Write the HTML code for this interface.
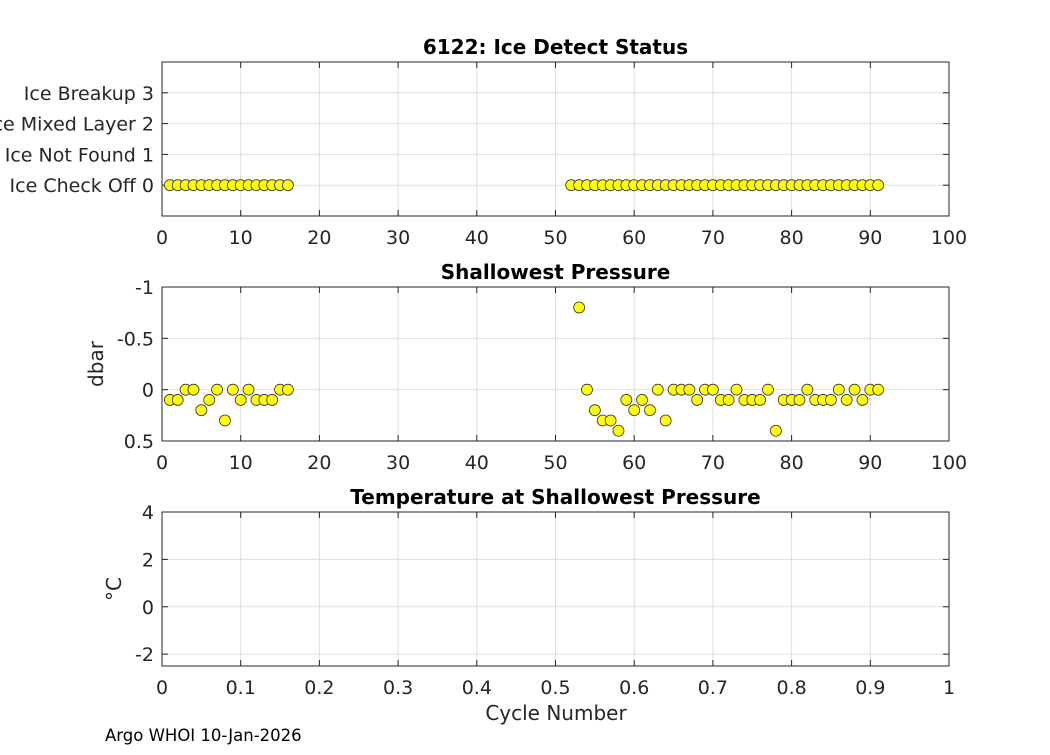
<!DOCTYPE html>
<html><head><meta charset="utf-8"><style>
body{margin:0;background:#fff;font-family:"Liberation Sans","DejaVu Sans",sans-serif;overflow:hidden}
svg text{font-family:"DejaVu Sans","Liberation Sans",sans-serif;fill:#262626}
</style></head><body>
<svg id="fig" width="1050" height="750" xmlns="http://www.w3.org/2000/svg"></svg>
<script>
const iceCycles=[1,2,3,4,5,6,7,8,9,10,11,12,13,14,15,16,52,53,54,55,56,57,58,59,60,61,62,63,64,65,66,67,68,69,70,71,72,73,74,75,76,77,78,79,80,81,82,83,84,85,86,87,88,89,90,91];
const iceStatus=[0,0,0,0,0,0,0,0,0,0,0,0,0,0,0,0,0,0,0,0,0,0,0,0,0,0,0,0,0,0,0,0,0,0,0,0,0,0,0,0,0,0,0,0,0,0,0,0,0,0,0,0,0,0,0,0];
const presCycles=[1,2,3,4,5,6,7,8,9,10,11,12,13,14,15,16,53,54,55,56,57,58,59,60,61,62,63,64,65,66,67,68,69,70,71,72,73,74,75,76,77,78,79,80,81,82,83,84,85,86,87,88,89,90,91];
const presValues=[0.1,0.1,0,0,0.2,0.1,0,0.3,0,0.1,0,0.1,0.1,0.1,0,0,-0.8,0,0.2,0.3,0.3,0.4,0.1,0.2,0.1,0.2,0,0.3,0,0,0,0.1,0,0,0.1,0.1,0,0.1,0.1,0.1,0,0.4,0.1,0.1,0.1,0,0.1,0.1,0.1,0,0.1,0,0.1,0,0];
const xTicks100=[0,10,20,30,40,50,60,70,80,90,100];
const xTicks1=[0,0.1,0.2,0.3,0.4,0.5,0.6,0.7,0.8,0.9,1];
const iceTickVals=[0,1,2,3];
const iceTickLabels=["Ice Check Off 0","Ice Not Found 1","Ice Mixed Layer 2","Ice Breakup 3"];
const presTicks=[-1,-0.5,0,0.5];
const presTickLabels=["-1","-0.5","0","0.5"];
const tempTicks=[-2,0,2,4];

const svg=document.getElementById('fig');
const NS='http://www.w3.org/2000/svg';
function mk(tag,attrs,parent){const e=document.createElementNS(NS,tag);for(const k in attrs)e.setAttribute(k,attrs[k]);(parent||svg).appendChild(e);return e;}
const L=162,R=949;
function panel(name,top,bot,xmin,xmax,ymin,ymax,rev,xt,yt,ylabs,title,ylabel,ylx){
  const g=mk('g',{});
  
  
  const sx=v=>L+(v-xmin)/(xmax-xmin)*(R-L);
  const sy=v=>rev? top+(v-ymin)/(ymax-ymin)*(bot-top) : bot-(v-ymin)/(ymax-ymin)*(bot-top);
  mk('rect',{x:L,y:top,width:R-L,height:bot-top,fill:'#fff'},g);
  xt.forEach(t=>{const x=sx(t);
    mk('line',{x1:x,x2:x,y1:top,y2:bot,stroke:'#dfdfdf','stroke-width':1},g);
    mk('line',{x1:x,x2:x,y1:bot,y2:bot-6,stroke:'#262626'},g);
    mk('line',{x1:x,x2:x,y1:top,y2:top+6,stroke:'#262626'},g);
    const tx=mk('text',{x:x,y:bot+28,'text-anchor':'middle','font-size':19},g);tx.textContent=String(t);
    
    });
  yt.forEach((t,i)=>{const y=sy(t);
    mk('line',{x1:L,x2:R,y1:y,y2:y,stroke:'#dfdfdf'},g);
    mk('line',{x1:L,x2:L+6,y1:y,y2:y,stroke:'#262626'},g);
    mk('line',{x1:R,x2:R-6,y1:y,y2:y,stroke:'#262626'},g);
    const tx=mk('text',{x:L-8,y:y+7,'text-anchor':'end','font-size':19},g);tx.textContent=ylabs[i];
    
    });
  mk('rect',{x:L,y:top,width:R-L,height:bot-top,fill:'none',stroke:'#262626','stroke-width':1},g);
  const tt=mk('text',{x:(L+R)/2,y:top-8,'text-anchor':'middle','font-size':20,'font-weight':'bold',style:'fill:#000'},g);tt.textContent=title;
  
  
  if(ylabel){const yl=mk('text',{x:0,y:0,transform:`translate(${ylx},${(top+bot)/2}) rotate(-90)`,'text-anchor':'middle','font-size':20},g);yl.textContent=ylabel;
    
    }
  return {g,sx,sy};
}
const p1=panel('ice-status-panel',62,216,0,100,-1,4,false,xTicks100,iceTickVals,iceTickLabels,'6122: Ice Detect Status',null,0);
iceCycles.forEach((c,i)=>{const m=mk('circle',{cx:p1.sx(c),cy:p1.sy(iceStatus[i]),r:5.5,fill:'#ffff00',stroke:'#333','stroke-width':0.8},p1.g);
  
  });
const p2=panel('pressure-panel',287,441,0,100,-1,0.5,true,xTicks100,presTicks,presTickLabels,'Shallowest Pressure','dbar',103);
presCycles.forEach((c,i)=>{const m=mk('circle',{cx:p2.sx(c),cy:p2.sy(presValues[i]),r:5.5,fill:'#ffff00',stroke:'#333','stroke-width':0.8},p2.g);
  
  });
const p3=panel('temperature-panel',512,666,0,1,-2.5,4,false,xTicks1,tempTicks,tempTicks.map(String),'Temperature at Shallowest Pressure','°C',121);
const xl=mk('text',{x:556,y:720,'text-anchor':'middle','font-size':20});xl.textContent='Cycle Number';


const ft=mk('text',{x:105,y:741,'font-size':16.5,style:'fill:#000'});ft.textContent='Argo WHOI 10-Jan-2026';


</script>
</body></html>
